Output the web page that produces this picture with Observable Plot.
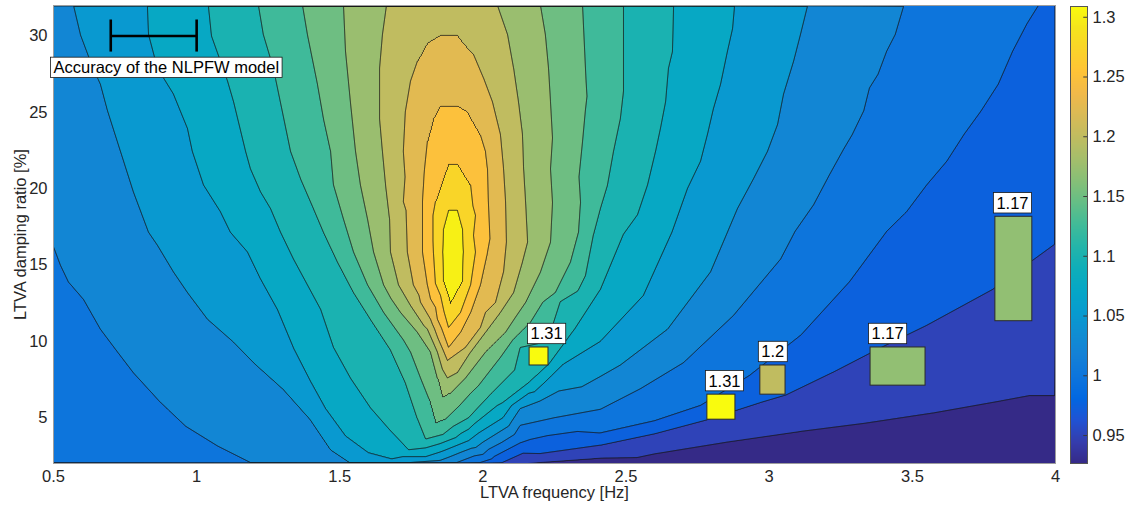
<!DOCTYPE html>
<html>
<head>
<meta charset="utf-8">
<script src="https://cdn.jsdelivr.net/npm/d3@7"></script>
<script src="https://cdn.jsdelivr.net/npm/@observablehq/plot@0.6"></script>
<style>
  body { margin: 0; background: #fff; }
  #chart { position: relative; width: 1133px; height: 508px; font-family: "Liberation Sans", Arial, sans-serif; }
  #chart svg { position: absolute; top: 0; overflow: visible; }
</style>
</head>
<body>
<div id="chart"></div>
<script>
// Contour levels of the amplitude ratio
const levels = [0.95, 0.975, 1, 1.025, 1.05, 1.075, 1.1, 1.125, 1.15, 1.175, 1.2, 1.225, 1.25, 1.275, 1.3];

// Sampled iso-ratio traces: [LTVA frequency (Hz), damping ratio (%)]
const at0950 = [[2.15,2],[2.41,2.35],[2.64,2.75],[2.87,3.45],[3.11,4.1],[3.34,4.65],[3.57,5.3],[3.81,6.1],[3.91,6.45],[4,6.45]];
const at0975 = [[2.06,2],[2.2,2.65],[2.41,3.2],[2.6,3.95],[2.78,4.85],[2.97,6.0],[3.06,6.5],[3.22,7.95],[3.38,9.5],[3.55,11.05],[3.78,13.4],[4,16.4]];
const at1000 = [[1.98,2],[2.13,3.35],[2.41,4.0],[2.6,4.8],[2.76,5.8],[2.93,7.75],[3.11,10.4],[3.28,13.9],[3.41,17.2],[3.48,18.5],[3.55,20.25],[3.62,21.8],[3.68,23.55],[3.74,25.1],[3.8,26.85],[3.85,29.0],[3.9,30.8],[3.94,32]];
const at1025 = [[0.5,16.2],[0.524,15.0],[0.552,13.9],[0.605,12.75],[0.664,10.8],[0.724,9.3],[0.779,7.95],[0.874,6.0],[0.961,4.45],[1.073,3.15],[1.195,2],
  [1.9,2],[2.0,2.6],[2.13,4.5],[2.25,5.0],[2.41,5.55],[2.55,6.9],[2.7,8.6],[2.875,11.7],[3.04,15.4],[3.09,17.2],[3.155,18.95],[3.21,20.9],[3.26,22.6],[3.29,23.55],[3.33,25.1],[3.35,26.6],[3.38,27.5],[3.41,29.0],[3.44,30.1],[3.47,32]];
const at1050 = [[0.57,32],[0.594,30.1],[0.636,28.0],[0.664,26.85],[0.689,25.1],[0.734,22.45],[0.779,19.8],[0.832,17.15],[0.863,16.3],[0.919,14.55],[0.968,13.2],[1.038,11.45],[1.129,9.95],[1.199,8.6],[1.303,6.85],[1.398,4.85],[1.468,2.9],[1.54,2],
  [1.7,2],[1.85,2.2],[2.0,3.4],[2.13,5.6],[2.2,6.1],[2.41,7.7],[2.645,10.8],[2.795,14.55],[2.854,17.15],[2.889,18.7],[2.945,20.65],[2.994,22.45],[3.029,24.2],[3.05,26.2],[3.085,28.35],[3.109,30.1],[3.134,32]];
const at1075 = [[0.828,32],[0.832,30.1],[0.863,27.9],[0.919,26.2],[0.968,23.95],[0.985,22.45],[1.024,20.25],[1.083,18.5],[1.118,17.15],[1.178,15.85],[1.223,14.1],[1.282,12.1],[1.34,9.5],[1.40,7.3],[1.45,5.6],[1.52,3.8],[1.6,2.7],[1.68,2.3],
  [1.8,2.45],[1.95,3.5],[2.07,5.0],[2.16,6.6],[2.28,8.5],[2.41,10.0],[2.56,13.0],[2.66,17.15],[2.714,20.0],[2.76,21.8],[2.784,23.55],[2.805,25.25],[2.83,26.85],[2.854,29.0],[2.872,30.5],[2.879,32]];
const at1100 = [[1.041,32],[1.052,30],[1.108,27.05],[1.129,25.7],[1.171,22.45],[1.188,21.3],[1.223,19.8],[1.258,18.7],[1.293,17.15],[1.338,15.4],[1.387,13.7],[1.433,12.1],[1.478,9.6],[1.537,7.6],[1.607,5.65],[1.677,4.15],[1.74,2.9],
  [1.85,3.3],[1.97,4.6],[2.07,6.0],[2.16,7.3],[2.23,8.5],[2.32,10.8],[2.41,13.4],[2.49,17.0],[2.54,18.3],[2.575,20.25],[2.603,22.45],[2.62,23.95],[2.638,25.7],[2.648,27.9],[2.662,29.0],[2.666,32]];
const at1125 = [[1.216,32],[1.233,30.1],[1.268,27.9],[1.3,25.0],[1.328,22.45],[1.363,20.65],[1.408,18.7],[1.443,17.15],[1.492,15.2],[1.548,13.2],[1.607,11.45],[1.677,9.45],[1.729,7.3],[1.77,5.0],[1.8,3.6],
  [1.86,3.9],[1.95,5.0],[2.03,6.6],[2.13,9.6],[2.27,12.6],[2.386,17.0],[2.41,18.7],[2.435,20.25],[2.456,22.45],[2.48,24.6],[2.491,26.4],[2.491,32]];
const at1150 = [[1.37,32],[1.387,30.1],[1.422,26.85],[1.443,24.6],[1.468,22.45],[1.478,20.25],[1.513,18.0],[1.548,15.85],[1.597,13.7],[1.653,11.9],[1.722,10.1],[1.747,9.3],[1.782,7.6],[1.81,6.3],[1.835,4.6],
  [1.869,4.9],[1.957,6.6],[2.061,8.95],[2.166,11.25],[2.253,13.2],[2.306,15.2],[2.334,17.15],[2.341,19.1],[2.348,23.1],[2.348,32]];
const at1175 = [[1.513,32],[1.52,29.0],[1.537,25.7],[1.555,22.45],[1.572,20.25],[1.597,18.0],[1.618,15.85],[1.653,13.7],[1.712,11.9],[1.771,10.6],[1.817,9.3],[1.841,7.6],[1.859,6.3],
  [1.887,6.6],[1.939,7.6],[2.009,9.3],[2.079,10.6],[2.149,12.55],[2.201,14.55],[2.236,16.5],[2.243,19.1],[2.236,21.3],[2.236,25.7],[2.229,27.9],[2.218,30.1],[2.201,32]];
const at1200 = [[1.663,32],[1.649,30.1],[1.639,27.9],[1.639,24.6],[1.649,22.45],[1.66,20.25],[1.674,18.0],[1.677,15.85],[1.705,13.7],[1.747,12.35],[1.806,10.8],[1.841,9.3],[1.876,7.6],
  [1.911,7.95],[1.957,9.3],[2.009,10.6],[2.061,11.9],[2.107,13.2],[2.138,15.2],[2.156,16.5],[2.149,19.1],[2.142,21.3],[2.138,23.55],[2.124,25.7],[2.107,27.9],[2.086,30.1],[2.051,32]];
const at1225 = [[1.852,30.07],[1.806,29.55],[1.771,28.35],[1.747,27.05],[1.729,25.05],[1.722,22.45],[1.722,19.15],[1.736,15.85],[1.757,13.7],[1.817,11.45],[1.876,8.75],
  [1.939,9.6],[1.991,10.9],[2.044,12.55],[2.072,14.55],[2.082,16.5],[2.079,19.15],[2.072,21.3],[2.061,23.55],[2.033,25.7],[2.002,27.25],[1.967,28.8],[1.932,29.55],[1.911,30.07]];
const at1250 = [[1.852,25.45],[1.827,24.6],[1.806,23.1],[1.796,21.3],[1.789,19.15],[1.789,15.85],[1.806,13.7],[1.841,11.45],[1.88,9.6],
  [1.922,10.6],[1.957,11.9],[1.991,13.7],[2.016,15.85],[2.019,19.15],[2.016,21.3],[2.009,22.45],[1.991,23.55],[1.946,25.05],[1.911,25.45]];
const at1275 = [[1.88,21.65],[1.834,19.15],[1.827,15.85],[1.852,13.0],[1.88,10.9],[1.922,11.9],[1.957,13.7],[1.967,16.95],[1.957,20.25],[1.911,21.65]];
const at1300 = [[1.88,18.6],[1.862,17.35],[1.859,15.85],[1.862,13.9],[1.887,12.45],[1.929,13.9],[1.932,15.85],[1.929,17.35],[1.911,18.6]];

// Spot values away from the traces: [Hz, %, ratio] (edges, corners, peak)
const spotValues = [
  [0.5,2,1.005],[0.5,9,1.016],[0.5,24,1.036],[0.5,32,1.043],
  [1.0,2,1.019],[1.4,2,1.043],[1.62,2,1.053],
  [2.6,2,0.938],[3.2,2,0.931],[4,2,0.927],
  [4,4,0.94],[4,11,0.961],[4,24,0.987],[4,32,0.997],
  [1.88,32,1.221],
  [1.895,16,1.31],[1.895,14.5,1.308],[1.895,17.3,1.307]
];

// Measured configurations (boxes) and their amplitude ratio
const boxX1 = [2.163, 2.784, 2.969, 3.354, 3.790];
const boxX2 = [2.229, 2.882, 3.057, 3.546, 3.919];
const boxY1 = [8.42, 4.87, 6.51, 7.10, 11.32];
const boxY2 = [9.60, 6.51, 8.42, 9.60, 18.16];
const boxRatio = [1.31, 1.31, 1.2, 1.17, 1.17];

// Model accuracy bar
const accuracyRange = [0.7, 1.0];
const accuracyAt = 30;
const accuracyCap = [28.95, 31.05];
const accuracyText = "Accuracy of the NLPFW model";
const accuracyTextAt = [0.5, 27.9];

// Axes
const xTicks = [0.5, 1, 1.5, 2, 2.5, 3, 3.5, 4];
const yTicks = [5, 10, 15, 20, 25, 30];
const colorTicks = [0.95, 1, 1.05, 1.1, 1.15, 1.2, 1.25, 1.3];
const colorDomain = [0.9266, 1.309];
const xTitle = "LTVA frequency [Hz]";
const yTitle = "LTVA damping ratio [%]";

// parula colormap
const parulaStops = ["#352a87","#353dad","#2053d4","#0268e1","#0d75dc","#1481d6","#108ed2","#079ccf","#06a7c6","#0faeb9","#25b5a9","#42bb98","#65be86","#87bf77","#a5be6b","#c0bc60","#d9ba56","#f1b94a","#ffc337","#fad32a","#f5e41d","#f9fb0e"];
const parula = d3.piecewise(d3.interpolateRgb, parulaStops);
const colorScale = {type: "linear", domain: colorDomain, interpolate: parula, clamp: true};

const traces = [at0950, at0975, at1000, at1025, at1050, at1075, at1100, at1125, at1150, at1175, at1200, at1225, at1250, at1275, at1300];
const samples = [
  ...traces.flatMap((pts, i) => pts.map(([x, y]) => ({x, y, v: levels[i]}))),
  ...spotValues.map(([x, y, v]) => ({x, y, v}))
];
const boxes = boxRatio.map((v, i) => ({x1: boxX1[i], x2: boxX2[i], y1: boxY1[i], y2: boxY2[i], v}));

// thresholds sit a hair under each level so that samples lying exactly on a level count as inside it
const cut = levels.map(l => l - 1e-6);
const field = {x: "x", y: "y", value: "v", interpolate: "barycentric", x1: 0.47, x2: 4.03, y1: 1.7, y2: 32.3, pixelSize: 1, clip: true};
const font = "Liberation Sans, Arial, sans-serif";

const main = Plot.plot({
  width: 1060, height: 508,
  marginLeft: 53, marginRight: 5, marginTop: 5, marginBottom: 45,
  style: {fontFamily: font, fontSize: "16.5px", color: "#262626", background: "transparent"},
  x: {domain: [0.5, 4], ticks: xTicks, tickFormat: String, tickSize: 0, tickPadding: 7, label: null},
  y: {domain: [2, 32], ticks: yTicks, tickFormat: String, tickSize: 0, tickPadding: 6, label: null},
  color: colorScale,
  marks: [
    Plot.contour(samples, {...field, thresholds: [0.9, ...cut], fill: "value"}),
    Plot.contour(samples, {...field, thresholds: cut, fill: "none", stroke: "#151515", strokeWidth: 0.9}),
    Plot.frame({stroke: "#9d9d9d"}),
    Plot.ruleY([accuracyAt], {x1: accuracyRange[0], x2: accuracyRange[1], stroke: "black", strokeWidth: 2.6}),
    Plot.ruleX(accuracyRange, {y1: accuracyCap[0], y2: accuracyCap[1], stroke: "black", strokeWidth: 2.6}),
    Plot.text([accuracyText], {x: accuracyTextAt[0], y: accuracyTextAt[1], text: d => d, textAnchor: "start", lineAnchor: "middle", fill: "black"}),
    Plot.rect(boxes, {x1: "x1", x2: "x2", y1: "y1", y2: "y2", fill: "v", stroke: "#2a2a2a", strokeWidth: 1}),
    Plot.text(boxes, {x: "x1", y: "y2", text: d => String(d.v), textAnchor: "start", lineAnchor: "bottom", dx: 1, dy: -8, fill: "black"}),
    Plot.text([xTitle], {frameAnchor: "bottom", text: d => d, textAnchor: "middle", lineAnchor: "top", dy: 23, fill: "#262626"}),
    Plot.text([yTitle], {frameAnchor: "left", text: d => d, rotate: -90, textAnchor: "middle", lineAnchor: "bottom", dx: -28, fill: "#262626"})
  ]
});

const bar = Plot.plot({
  width: 73, height: 508,
  marginLeft: 10, marginRight: 46, marginTop: 6, marginBottom: 45,
  style: {fontFamily: font, fontSize: "16.5px", color: "#262626", background: "transparent"},
  x: {domain: [0, 1], axis: null},
  y: {domain: colorDomain, axis: "right", ticks: colorTicks, tickFormat: String, tickSize: 0, tickPadding: 5, label: null},
  color: colorScale,
  marks: [
    Plot.raster({fill: (x, y) => y, x1: 0, x2: 1, y1: colorDomain[0], y2: colorDomain[1]}),
    Plot.ruleY(colorTicks, {x1: 0.78, x2: 1, stroke: "#3a3a3a", strokeWidth: 1}),
    Plot.frame({stroke: "#555"})
  ]
});

const chart = document.getElementById("chart");
main.style.left = "0px";
bar.style.left = "1060px";
chart.appendChild(main);
chart.appendChild(bar);

// white label boxes behind the annotation texts
const tagged = new Set([accuracyText, ...boxRatio.map(String)]);
d3.select(main).selectAll('g[aria-label="text"] text')
  .filter(function() { return tagged.has(this.textContent); })
  .each(function() {
    const b = this.getBBox();
    d3.select(this.parentNode).insert("rect", () => this)
      .attr("x", b.x - 3).attr("y", b.y - 1.2)
      .attr("width", b.width + 6).attr("height", b.height + 2.4)
      .attr("transform", this.getAttribute("transform"))
      .attr("fill", "white").attr("stroke", "#1a1a1a").attr("stroke-width", 0.8);
  });
</script>
</body>
</html>
